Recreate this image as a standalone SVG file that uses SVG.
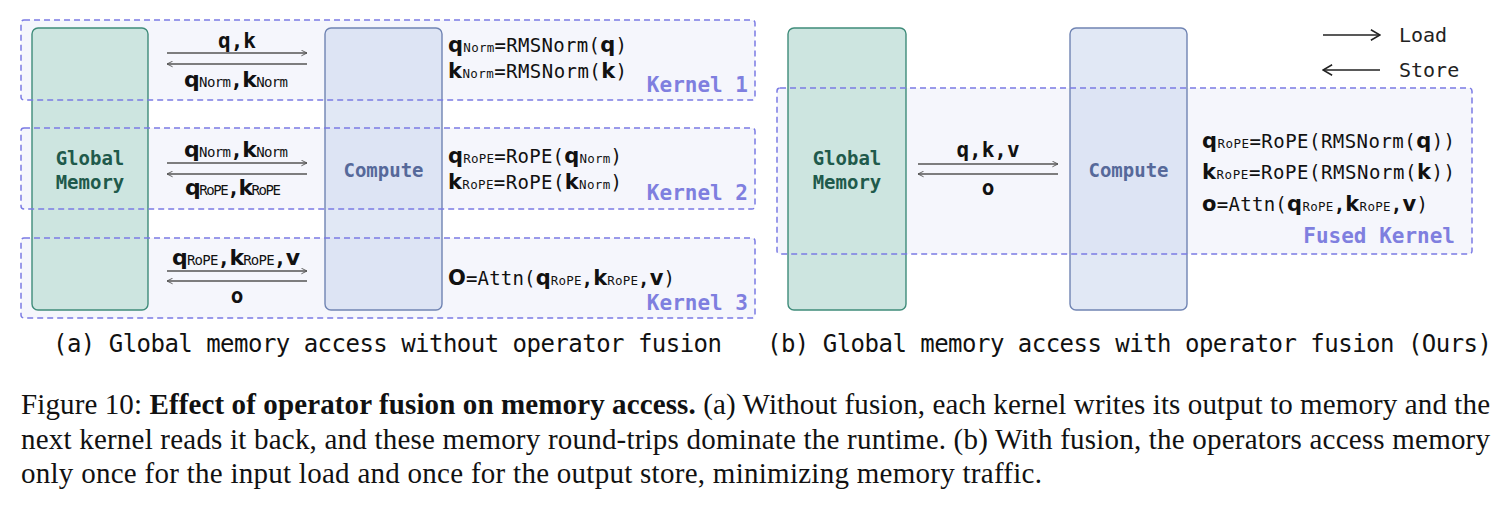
<svg xmlns="http://www.w3.org/2000/svg" xmlns:xlink="http://www.w3.org/1999/xlink" width="1511" height="511" viewBox="0 0 1511 511">
<defs>
<marker id="ah" viewBox="0 0 10 10" refX="9" refY="5" markerWidth="7" markerHeight="7" orient="auto-start-reverse" markerUnits="userSpaceOnUse">
<path d="M1,1 L9,5 L1,9" fill="none" stroke="#555" stroke-width="1.3"/>
</marker>
<marker id="lh" viewBox="0 0 10 10" refX="9" refY="5" markerWidth="13" markerHeight="13" orient="auto-start-reverse" markerUnits="userSpaceOnUse">
<path d="M2,1 L9,5 L2,9" fill="none" stroke="#222" stroke-width="1.2"/>
</marker>
<rect id="k1r" x="21" y="20" width="734" height="80" rx="3"/>
<rect id="k2r" x="21" y="128" width="734" height="81" rx="3"/>
<rect id="k3r" x="21" y="238" width="734" height="80" rx="3"/>
<rect id="kfr" x="777" y="88" width="695" height="166" rx="3"/>
<style>
.mem{fill:#cde5e0;stroke:#3f8c7a;stroke-width:1.4}
.cmp{fill:#c9d6ec;fill-opacity:0.55;stroke:#7084b3;stroke-width:1.4}
.memt{font-family:"DejaVu Sans Mono",monospace;font-weight:bold;font-size:19px;fill:#1f5a4b;text-anchor:middle}
.cmpt{font-family:"DejaVu Sans Mono",monospace;font-weight:bold;font-size:19px;fill:#56699a;text-anchor:middle}
.kfill{fill:#f5f6fc;stroke:none}
.kline{fill:none;stroke:#7b7be4;stroke-width:1.5;stroke-dasharray:6 4}
.kl{font-family:"DejaVu Sans Mono",monospace;font-weight:bold;font-size:21px;fill:#7f7fdf;text-anchor:end}
.eq{font-family:"DejaVu Sans Mono",monospace;font-size:19px;fill:#111}
.b{font-family:"DejaVu Sans",sans-serif;font-weight:bold;font-size:21px}
.sub{font-family:"DejaVu Sans Mono",monospace;font-weight:normal;font-size:12.5px}
.al{font-family:"DejaVu Sans Mono",monospace;font-weight:bold;font-size:21px;fill:#111;text-anchor:middle}
.alb{font-family:"DejaVu Sans",sans-serif;font-weight:bold;font-size:22px}
.als{font-family:"DejaVu Sans Mono",monospace;font-weight:normal;font-size:14px}
.arr{stroke:#555;stroke-width:1.3;fill:none}
.leg{stroke:#222;stroke-width:1.5;fill:none}
.legt{font-family:"DejaVu Sans Mono",monospace;font-size:20px;fill:#222}
.cap{font-family:"DejaVu Sans Mono",monospace;font-size:24px;fill:#111}
.fig{font-family:"Liberation Serif","Times New Roman",serif;font-size:29px;fill:#111}
</style>
</defs>
<rect width="1511" height="511" fill="#fff"/>

<!-- kernel backgrounds -->
<g id="kernel-backgrounds">
<use xlink:href="#k1r" class="kfill"/>
<use xlink:href="#k2r" class="kfill"/>
<use xlink:href="#k3r" class="kfill"/>
<use xlink:href="#kfr" class="kfill"/>
</g>

<!-- (a) nodes -->
<g id="mem-a"><rect class="mem" x="32" y="28" width="116" height="282" rx="6"/>
<text class="memt" x="90" y="165">Global</text><text class="memt" x="90" y="189">Memory</text></g>
<g id="cmp-a"><rect class="cmp" x="325" y="28" width="117" height="282" rx="6"/>
<text class="cmpt" x="383.5" y="177">Compute</text></g>

<!-- (b) nodes -->
<g id="mem-b"><rect class="mem" x="788" y="28" width="118" height="282" rx="6"/>
<text class="memt" x="847" y="165">Global</text><text class="memt" x="847" y="189">Memory</text></g>
<g id="cmp-b"><rect class="cmp" x="1070" y="28" width="117" height="282" rx="6"/>
<text class="cmpt" x="1128.5" y="177">Compute</text></g>

<!-- kernels -->
<g id="kernel1"><use xlink:href="#k1r" class="kline"/>
<text class="eq" x="448" y="52" textLength="179" lengthAdjust="spacing"><tspan class="b">q</tspan><tspan class="sub">Norm</tspan>=RMSNorm(<tspan class="b">q</tspan>)</text>
<text class="eq" x="448" y="78" textLength="179" lengthAdjust="spacing"><tspan class="b">k</tspan><tspan class="sub">Norm</tspan>=RMSNorm(<tspan class="b">k</tspan>)</text>
<text class="kl" x="748" y="92">Kernel 1</text></g>

<g id="kernel2"><use xlink:href="#k2r" class="kline"/>
<text class="eq" x="448" y="163" textLength="174" lengthAdjust="spacing"><tspan class="b">q</tspan><tspan class="sub">RoPE</tspan>=RoPE(<tspan class="b">q</tspan><tspan class="sub">Norm</tspan>)</text>
<text class="eq" x="448" y="189" textLength="174" lengthAdjust="spacing"><tspan class="b">k</tspan><tspan class="sub">RoPE</tspan>=RoPE(<tspan class="b">k</tspan><tspan class="sub">Norm</tspan>)</text>
<text class="kl" x="748" y="200">Kernel 2</text></g>

<g id="kernel3"><use xlink:href="#k3r" class="kline"/>
<text class="eq" x="448" y="285" textLength="227" lengthAdjust="spacing"><tspan class="b">O</tspan>=Attn(<tspan class="b">q</tspan><tspan class="sub">RoPE</tspan><tspan font-weight="bold">,</tspan><tspan class="b">k</tspan><tspan class="sub">RoPE</tspan><tspan font-weight="bold">,</tspan><tspan class="b">v</tspan>)</text>
<text class="kl" x="748" y="310">Kernel 3</text></g>

<g id="fused-kernel"><use xlink:href="#kfr" class="kline"/>
<text class="eq" x="1202" y="148" textLength="253" lengthAdjust="spacing"><tspan class="b">q</tspan><tspan class="sub">RoPE</tspan>=RoPE(RMSNorm(<tspan class="b">q</tspan>))</text>
<text class="eq" x="1202" y="179" textLength="253" lengthAdjust="spacing"><tspan class="b">k</tspan><tspan class="sub">RoPE</tspan>=RoPE(RMSNorm(<tspan class="b">k</tspan>))</text>
<text class="eq" x="1202" y="211" textLength="226" lengthAdjust="spacing"><tspan class="b">o</tspan>=Attn(<tspan class="b">q</tspan><tspan class="sub">RoPE</tspan><tspan font-weight="bold">,</tspan><tspan class="b">k</tspan><tspan class="sub">RoPE</tspan><tspan font-weight="bold">,</tspan><tspan class="b">v</tspan>)</text>
<text class="kl" x="1455" y="243">Fused Kernel</text></g>

<!-- connectors -->
<g id="connectors">
<line class="arr" x1="167" y1="53" x2="307" y2="53" marker-end="url(#ah)"/>
<line class="arr" x1="307" y1="64" x2="167" y2="64" marker-end="url(#ah)"/>
<line class="arr" x1="167" y1="163" x2="307" y2="163" marker-end="url(#ah)"/>
<line class="arr" x1="307" y1="174" x2="167" y2="174" marker-end="url(#ah)"/>
<line class="arr" x1="167" y1="271" x2="307" y2="271" marker-end="url(#ah)"/>
<line class="arr" x1="307" y1="281" x2="167" y2="281" marker-end="url(#ah)"/>
<line class="arr" x1="918" y1="164" x2="1058" y2="164" marker-end="url(#ah)"/>
<line class="arr" x1="1058" y1="174" x2="918" y2="174" marker-end="url(#ah)"/>
<text class="al" x="237" y="48">q,k</text>
<text class="al" x="236" y="87" textLength="104" lengthAdjust="spacing"><tspan class="alb">q</tspan><tspan class="als">Norm</tspan>,<tspan class="alb">k</tspan><tspan class="als">Norm</tspan></text>
<text class="al" x="236" y="157" textLength="104" lengthAdjust="spacing"><tspan class="alb">q</tspan><tspan class="als">Norm</tspan>,<tspan class="alb">k</tspan><tspan class="als">Norm</tspan></text>
<text class="al" x="233" y="195" textLength="96" lengthAdjust="spacing"><tspan class="alb">q</tspan><tspan class="als">RoPE</tspan>,<tspan class="alb">k</tspan><tspan class="als">RoPE</tspan></text>
<text class="al" x="236" y="265" textLength="128" lengthAdjust="spacing"><tspan class="alb">q</tspan><tspan class="als">RoPE</tspan>,<tspan class="alb">k</tspan><tspan class="als">RoPE</tspan>,<tspan class="alb">v</tspan></text>
<text class="al" x="237" y="303">o</text>
<text class="al" x="988" y="157">q,k,v</text>
<text class="al" x="988" y="195">o</text>
</g>

<!-- legend -->
<g id="legend">
<line class="leg" x1="1323" y1="35" x2="1380" y2="35" marker-end="url(#lh)"/>
<line class="leg" x1="1380" y1="70" x2="1323" y2="70" marker-end="url(#lh)"/>
<text class="legt" x="1399" y="42">Load</text>
<text class="legt" x="1399" y="77">Store</text>
</g>

<!-- sub captions -->
<text class="cap" x="53" y="352" textLength="669" lengthAdjust="spacing">(a) Global memory access without operator fusion</text>
<text class="cap" x="767" y="352" textLength="725" lengthAdjust="spacing">(b) Global memory access with operator fusion (Ours)</text>

<!-- figure caption -->
<text class="fig" x="21" y="414" textLength="1469" lengthAdjust="spacing">Figure 10: <tspan font-weight="bold">Effect of operator fusion on memory access.</tspan> (a) Without fusion, each kernel writes its output to memory and the</text>
<text class="fig" x="21" y="448.5" textLength="1469" lengthAdjust="spacing">next kernel reads it back, and these memory round-trips dominate the runtime. (b) With fusion, the operators access memory</text>
<text class="fig" x="21" y="483" textLength="1021" lengthAdjust="spacing">only once for the input load and once for the output store, minimizing memory traffic.</text>
</svg>
